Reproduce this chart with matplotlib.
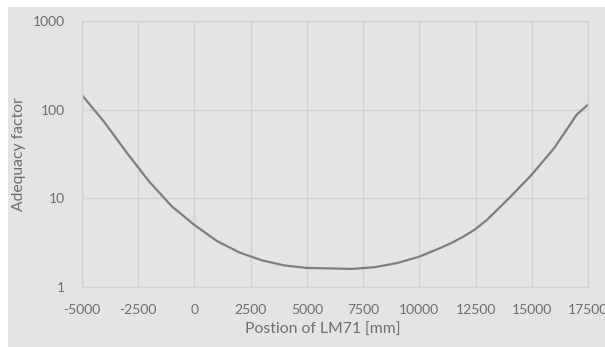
import matplotlib
matplotlib.use("Agg")
import matplotlib.pyplot as plt
from matplotlib.patches import Rectangle

position_mm = [-5000, -4000, -3000, -2000, -1000, 0, 1000, 2000, 3000, 4000,
               5000, 6000, 7000, 8000, 9000, 10000, 11000, 11500, 12000, 12500,
               13000, 14000, 15000, 16000, 17000, 17500]
adequacy = [146, 72, 32.5, 15.3, 8.1, 5.0, 3.3, 2.45, 2.0, 1.75,
            1.64, 1.62, 1.60, 1.67, 1.86, 2.2, 2.8, 3.2, 3.75, 4.5,
            5.7, 10.1, 18.5, 37, 88, 114]
x_ticks = [-5000, -2500, 0, 2500, 5000, 7500, 10000, 12500, 15000, 17500]
y_ticks = [1, 10, 100, 1000]

W, H = 605, 347
fig = plt.figure(figsize=(W / 100, H / 100), dpi=100, facecolor="white")
fig.patches.append(Rectangle((8 / W, 0), 1 - 8 / W, 1 - 7 / H, transform=fig.transFigure,
                             facecolor="#e4e4e4", edgecolor="none", zorder=-10))

left, right, top, bottom = 82, 588, 21, 287
ax = fig.add_axes([left / W, 1 - bottom / H, (right - left) / W, (bottom - top) / H])
ax.set_zorder(5)
ax.set_facecolor("none")
ax.plot(position_mm, adequacy, color="#7f7f7f", linewidth=1.6, solid_joinstyle="round")
ax.set_yscale("log")
ax.set_xlim(-5000, 17500)
ax.set_ylim(1, 1000)
ax.set_xticks(x_ticks)
ax.set_xticklabels([str(t) for t in x_ticks])
ax.set_yticks(y_ticks)
ax.set_yticklabels([str(t) for t in y_ticks])
ax.yaxis.set_minor_locator(matplotlib.ticker.NullLocator())
ax.grid(True, color="#d2d2d2", linewidth=1.0)
for s in ax.spines.values():
    s.set_color("#d2d2d2")
    s.set_linewidth(1.0)
ax.tick_params(length=0, labelsize=10, labelcolor="#6e6e6e", pad=12)
for lab in ax.get_xticklabels() + ax.get_yticklabels():
    lab.set_family("Lato")
ax.set_xlabel("Postion of LM71 [mm]", fontsize=11.3, color="#6e6e6e", family="Lato")
ax.xaxis.set_label_coords((323 - left) / (right - left), -(330 - bottom) / (bottom - top))
ax.xaxis.label.set_va("center")
ax.set_ylabel("Adequacy factor", fontsize=11.3, color="#6e6e6e", family="Lato")
ax.yaxis.set_label_coords(-(left - 19) / (right - left), 0.5)
ax.yaxis.label.set_va("center")
fig.savefig("out.png", dpi=100, facecolor=fig.get_facecolor())
